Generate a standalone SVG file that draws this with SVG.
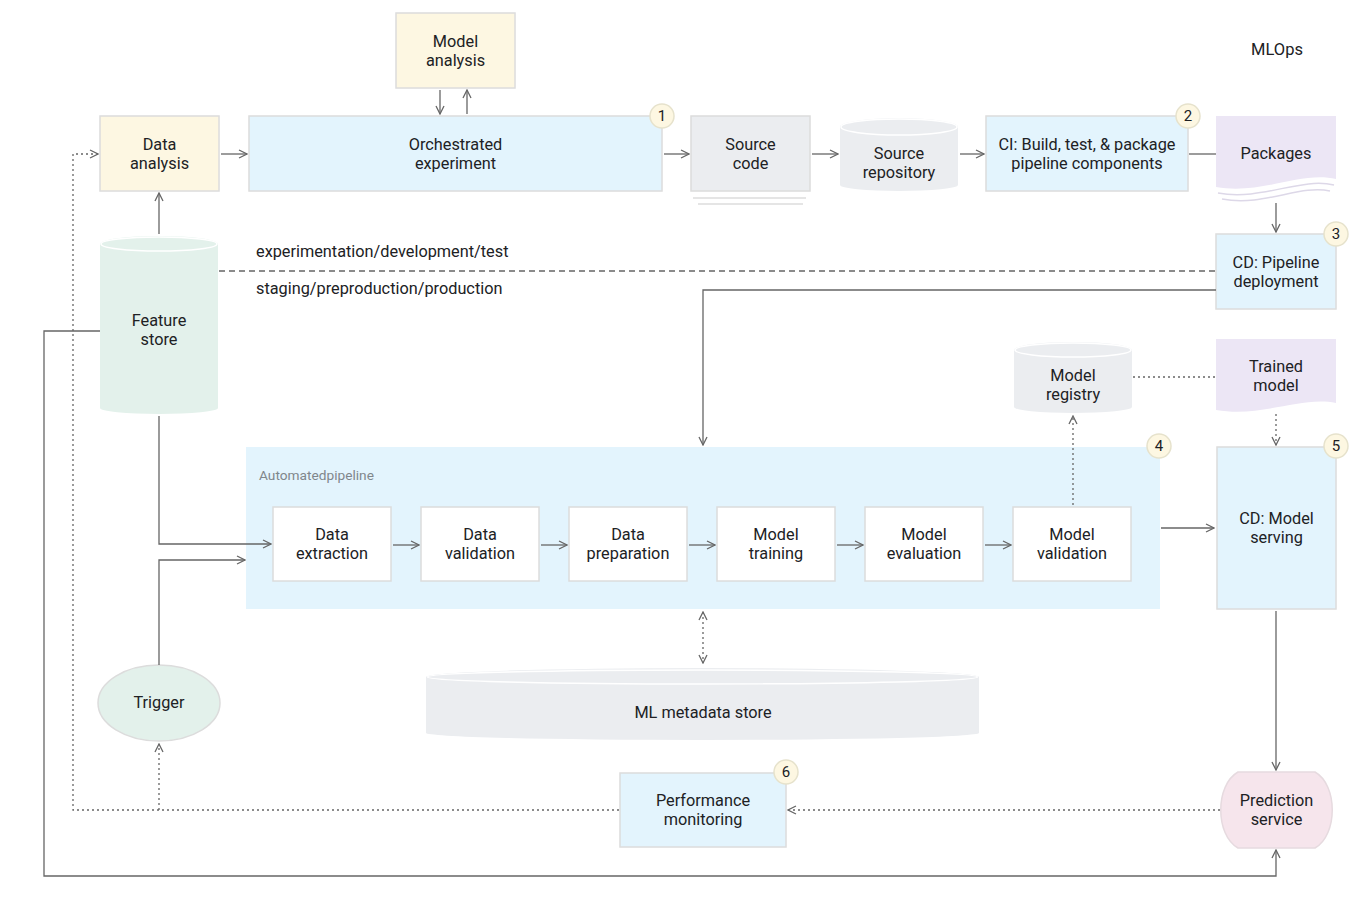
<svg xmlns="http://www.w3.org/2000/svg" width="1372" height="900" viewBox="0 0 1372 900">
<style>
text{font-family:Roboto,"Liberation Sans",sans-serif;font-size:16.3px;fill:#202124;text-anchor:middle}
.box{stroke:#dcdcdc;stroke-width:1.5}
.yel{fill:#fdf7e2}
.blu{fill:#e3f4fd}
.gry{fill:#ebedf0}
.wht{fill:#ffffff}
.mint{fill:#e3f1eb}
.lav{fill:#ece6f5}
.pink{fill:#f6e5ec}
.c{fill:none;stroke:#666;stroke-width:1.3}
.dash{stroke-dasharray:6 4}
.dot{stroke-dasharray:2 3}
.badge circle{fill:#fdf7e2;stroke:#e6e2cc;stroke-width:1.5}
.badge text{font-size:15px}
.top{fill:none;stroke:#ffffff;stroke-width:1.5}
.lbl{text-anchor:start}
</style>
<defs>
<marker id="a" viewBox="0 0 10 10" refX="9" refY="5" markerWidth="10" markerHeight="10" markerUnits="userSpaceOnUse" orient="auto-start-reverse">
<path d="M1,1 L9,5 L1,9" fill="none" stroke="#666" stroke-width="1.3"/>
</marker>
</defs>
<rect width="1372" height="900" fill="#ffffff"/>
<text x="1277" y="55" style="font-size:16.5px">MLOps</text>

<g id="model-analysis">
<rect class="box yel" x="396" y="13" width="119" height="75"/>
<text x="455.5" y="47">Model</text><text x="455.5" y="66">analysis</text>
</g>
<g id="data-analysis">
<rect class="box yel" x="100" y="116" width="119" height="75"/>
<text x="159.5" y="150">Data</text><text x="159.5" y="169">analysis</text>
</g>
<g id="orchestrated-experiment">
<rect class="box blu" x="249" y="116" width="413" height="75"/>
<text x="455.5" y="150">Orchestrated</text><text x="455.5" y="169">experiment</text>
<g class="badge"><circle cx="662" cy="116" r="12"/><text x="662" y="121">1</text></g>
</g>
<g id="source-code">
<rect class="box gry" x="691" y="116" width="119" height="75"/>
<line x1="693" y1="198" x2="806" y2="198" stroke="#dcdcdc" stroke-width="1.5"/>
<line x1="698" y1="204" x2="803" y2="204" stroke="#dcdcdc" stroke-width="1.5"/>
<text x="750.5" y="150">Source</text><text x="750.5" y="169">code</text>
</g>
<g id="source-repository">
<path class="gry" d="M840,127 V185 A59,6 0 0 0 958,185 V127 A59,9 0 0 0 840,127 Z"/>
<ellipse class="top" cx="899" cy="127" rx="58" ry="8"/>
<text x="899" y="159">Source</text><text x="899" y="178">repository</text>
</g>
<g id="ci">
<rect class="box blu" x="986" y="116" width="202" height="75"/>
<text x="1087" y="150">CI: Build, test, &amp; package</text><text x="1087" y="169">pipeline components</text>
<g class="badge"><circle cx="1188" cy="116" r="12"/><text x="1188" y="121">2</text></g>
</g>
<g id="packages">
<path class="lav" d="M1216,116 H1336 V179 C1300,171 1262,195 1216,187 Z"/>
<path d="M1218,193 C1262,201 1300,177 1334,185" fill="none" stroke="#ddd8e8" stroke-width="1.5"/>
<path d="M1222,199 C1264,207 1300,184 1330,191" fill="none" stroke="#ddd8e8" stroke-width="1.5"/>
<text x="1276" y="159">Packages</text>
</g>
<g id="cd-pipeline">
<rect class="box blu" x="1216" y="234" width="120" height="75"/>
<text x="1276" y="268">CD: Pipeline</text><text x="1276" y="287">deployment</text>
<g class="badge"><circle cx="1336" cy="234" r="12"/><text x="1336" y="239">3</text></g>
</g>
<text class="lbl" x="256" y="257">experimentation/development/test</text>
<text class="lbl" x="256" y="294">staging/preproduction/production</text>
<g id="feature-store">
<path class="mint" d="M100,244 V408 A59,6 0 0 0 218,408 V244 A59,8 0 0 0 100,244 Z"/>
<ellipse class="top" cx="159" cy="244" rx="58" ry="7"/>
<text x="159" y="326">Feature</text><text x="159" y="345">store</text>
</g>
<g id="model-registry">
<path class="gry" d="M1014,350 V407 A59,6 0 0 0 1132,407 V350 A59,8 0 0 0 1014,350 Z"/>
<ellipse class="top" cx="1073" cy="350" rx="58" ry="7"/>
<text x="1073" y="381">Model</text><text x="1073" y="400">registry</text>
</g>
<g id="trained-model">
<path class="lav" d="M1216,339 H1336 V403 C1300,396 1262,418 1216,410 Z"/>
<text x="1276" y="372">Trained</text><text x="1276" y="391">model</text>
</g>
<g id="automated-pipeline">
<rect class="blu" x="246" y="447" width="914" height="162"/>
<text class="lbl" x="259" y="480" style="font-size:13.7px;fill:#80868b">Automatedpipeline</text>
<g class="badge"><circle cx="1159" cy="446" r="12"/><text x="1159" y="451">4</text></g>
</g>
<g id="data-extraction">
<rect class="box wht" x="273" y="507" width="118" height="74"/>
<text x="332" y="540">Data</text><text x="332" y="559">extraction</text>
</g>
<g id="data-validation">
<rect class="box wht" x="421" y="507" width="118" height="74"/>
<text x="480" y="540">Data</text><text x="480" y="559">validation</text>
</g>
<g id="data-preparation">
<rect class="box wht" x="569" y="507" width="118" height="74"/>
<text x="628" y="540">Data</text><text x="628" y="559">preparation</text>
</g>
<g id="model-training">
<rect class="box wht" x="717" y="507" width="118" height="74"/>
<text x="776" y="540">Model</text><text x="776" y="559">training</text>
</g>
<g id="model-evaluation">
<rect class="box wht" x="865" y="507" width="118" height="74"/>
<text x="924" y="540">Model</text><text x="924" y="559">evaluation</text>
</g>
<g id="model-validation">
<rect class="box wht" x="1013" y="507" width="118" height="74"/>
<text x="1072" y="540">Model</text><text x="1072" y="559">validation</text>
</g>
<g id="cd-model-serving">
<rect class="box blu" x="1217" y="447" width="119" height="162"/>
<text x="1276.5" y="524">CD: Model</text><text x="1276.5" y="543">serving</text>
<g class="badge"><circle cx="1336" cy="446" r="12"/><text x="1336" y="451">5</text></g>
</g>
<g id="ml-metadata-store">
<path class="gry" d="M426,677 V733 A276.5,7 0 0 0 979,733 V677 A276.5,9 0 0 0 426,677 Z"/>
<ellipse class="top" cx="702.5" cy="677" rx="275" ry="7"/>
<text x="703" y="718">ML metadata store</text>
</g>
<g id="trigger">
<ellipse class="mint" cx="159" cy="703" rx="61" ry="38" stroke="#dcdcdc" stroke-width="1.5"/>
<text x="159" y="708">Trigger</text>
</g>
<g id="performance-monitoring">
<rect class="box blu" x="620" y="773" width="166" height="74"/>
<text x="703" y="806">Performance</text><text x="703" y="825">monitoring</text>
<g class="badge"><circle cx="786" cy="772" r="12"/><text x="786" y="777">6</text></g>
</g>
<g id="prediction-service">
<path class="pink" stroke="#e6dadf" stroke-width="1.5" d="M1238,772 H1315 C1338,785 1338,835 1315,848 H1238 C1215,835 1215,785 1238,772 Z"/>
<text x="1276.5" y="806">Prediction</text><text x="1276.5" y="825">service</text>
</g>

<g id="connectors">
<line class="c" x1="440" y1="90" x2="440" y2="114" marker-end="url(#a)"/>
<line class="c" x1="467" y1="114" x2="467" y2="90" marker-end="url(#a)"/>
<line class="c" x1="221" y1="154" x2="247" y2="154" marker-end="url(#a)"/>
<line class="c" x1="664" y1="154" x2="689" y2="154" marker-end="url(#a)"/>
<line class="c" x1="812" y1="154" x2="838" y2="154" marker-end="url(#a)"/>
<line class="c" x1="960" y1="154" x2="984" y2="154" marker-end="url(#a)"/>
<line class="c" x1="1189" y1="154" x2="1216" y2="154"/>
<line class="c" x1="1276" y1="203" x2="1276" y2="232" marker-end="url(#a)"/>
<line class="c" x1="159" y1="234" x2="159" y2="193" marker-end="url(#a)"/>
<line class="c dash" x1="219" y1="271" x2="1216" y2="271"/>
<polyline class="c" points="1216,290 703,290 703,445" marker-end="url(#a)"/>
<polyline class="c" points="100,331 44,331 44,876 1276,876 1276,850" marker-end="url(#a)"/>
<polyline class="c" points="159,416 159,544 271,544" marker-end="url(#a)"/>
<polyline class="c" points="159,665 159,560 245,560" marker-end="url(#a)"/>
<line class="c" x1="393" y1="545" x2="419" y2="545" marker-end="url(#a)"/>
<line class="c" x1="541" y1="545" x2="567" y2="545" marker-end="url(#a)"/>
<line class="c" x1="689" y1="545" x2="715" y2="545" marker-end="url(#a)"/>
<line class="c" x1="837" y1="545" x2="863" y2="545" marker-end="url(#a)"/>
<line class="c" x1="985" y1="545" x2="1011" y2="545" marker-end="url(#a)"/>
<line class="c dot" x1="1073" y1="505" x2="1073" y2="416" marker-end="url(#a)"/>
<line class="c dot" x1="1133" y1="377" x2="1216" y2="377"/>
<line class="c dot" x1="1276" y1="414" x2="1276" y2="445" marker-end="url(#a)"/>
<line class="c" x1="1161" y1="528" x2="1214" y2="528" marker-end="url(#a)"/>
<line class="c" x1="1276" y1="611" x2="1276" y2="770" marker-end="url(#a)"/>
<line class="c dot" x1="703" y1="612" x2="703" y2="663" marker-start="url(#a)" marker-end="url(#a)"/>
<line class="c dot" x1="1220" y1="810" x2="788" y2="810" marker-end="url(#a)"/>
<polyline class="c dot" points="619,810 73,810 73,154 98,154" marker-end="url(#a)"/>
<line class="c dot" x1="159" y1="810" x2="159" y2="744" marker-end="url(#a)"/>
</g>
</svg>
